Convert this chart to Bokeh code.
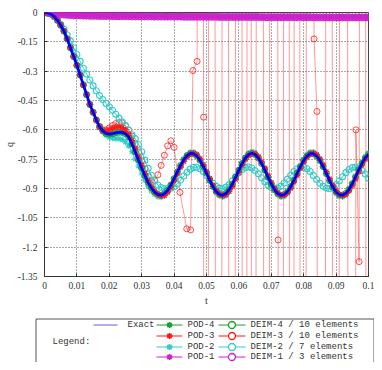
from bokeh.plotting import figure
from bokeh.models import Range1d, FixedTicker
from bokeh.core.properties import value
from bokeh.embed import file_html
from bokeh.resources import INLINE

# ---------------- data ----------------
t = [round(i * 0.001, 3) for i in range(101)]  # sampling instants

q_exact = [0.000, -0.002, -0.008, -0.020, -0.040, -0.065, -0.095, -0.135, -0.180, -0.225,
           -0.270, -0.320, -0.370, -0.420, -0.470, -0.510, -0.550, -0.585, -0.605, -0.618,
           -0.622, -0.620, -0.615, -0.612, -0.613, -0.620, -0.637, -0.672, -0.713, -0.755,
           -0.795, -0.835, -0.870, -0.897, -0.918, -0.930, -0.935, -0.927, -0.909, -0.882,
           -0.850, -0.815, -0.782, -0.753, -0.732, -0.721, -0.722, -0.733, -0.756, -0.787,
           -0.822, -0.858, -0.890, -0.916, -0.931, -0.935, -0.926, -0.906, -0.877, -0.842,
           -0.806, -0.772, -0.744, -0.726, -0.720, -0.726, -0.744, -0.772, -0.806, -0.842,
           -0.877, -0.906, -0.926, -0.935, -0.931, -0.916, -0.890, -0.858, -0.822, -0.787,
           -0.756, -0.734, -0.722, -0.722, -0.734, -0.757, -0.788, -0.824, -0.860, -0.893,
           -0.918, -0.932, -0.934, -0.925, -0.904, -0.875, -0.840, -0.804, -0.771, -0.744,
           -0.726]

q_pod4 = list(q_exact)
q_deim4 = list(q_exact)

q_pod3 = [0.000, -0.002, -0.008, -0.020, -0.040, -0.065, -0.095, -0.135, -0.180, -0.225,
          -0.270, -0.320, -0.370, -0.420, -0.470, -0.510, -0.550, -0.585, -0.605, -0.608,
          -0.600, -0.592, -0.586, -0.584, -0.588, -0.600, -0.622, -0.655, -0.695, -0.738,
          -0.780, -0.822, -0.860, -0.890, -0.915, -0.930, -0.938, -0.935, -0.920, -0.895,
          -0.862, -0.826, -0.792, -0.762, -0.738, -0.724, -0.720, -0.728, -0.748, -0.778,
          -0.812, -0.848, -0.882, -0.910, -0.928, -0.936, -0.932, -0.915, -0.888, -0.854,
          -0.818, -0.782, -0.752, -0.731, -0.721, -0.722, -0.737, -0.762, -0.795, -0.832,
          -0.868, -0.899, -0.922, -0.934, -0.934, -0.922, -0.899, -0.868, -0.833, -0.797,
          -0.765, -0.740, -0.725, -0.720, -0.727, -0.748, -0.777, -0.813, -0.850, -0.884,
          -0.911, -0.929, -0.936, -0.931, -0.913, -0.886, -0.852, -0.816, -0.781, -0.752,
          -0.732]

q_pod2 = [0.000, -0.002, -0.008, -0.020, -0.040, -0.065, -0.095, -0.135, -0.180, -0.225,
          -0.270, -0.320, -0.370, -0.420, -0.470, -0.510, -0.550, -0.585, -0.610, -0.628,
          -0.638, -0.643, -0.645, -0.646, -0.650, -0.662, -0.682, -0.712, -0.748, -0.785,
          -0.822, -0.857, -0.888, -0.912, -0.930, -0.942, -0.945, -0.938, -0.918, -0.889,
          -0.855, -0.818, -0.783, -0.752, -0.729, -0.716, -0.714, -0.724, -0.746, -0.778,
          -0.815, -0.853, -0.888, -0.917, -0.936, -0.943, -0.936, -0.916, -0.885, -0.848,
          -0.809, -0.771, -0.740, -0.719, -0.711, -0.716, -0.736, -0.765, -0.802, -0.841,
          -0.878, -0.910, -0.932, -0.943, -0.940, -0.924, -0.897, -0.862, -0.823, -0.785,
          -0.752, -0.727, -0.714, -0.713, -0.726, -0.750, -0.784, -0.822, -0.861, -0.897,
          -0.925, -0.941, -0.943, -0.933, -0.911, -0.879, -0.841, -0.802, -0.766, -0.737,
          -0.718]

q_deim2 = [0.000, -0.002, -0.008, -0.020, -0.038, -0.060, -0.085, -0.115, -0.145, -0.180,
           -0.215, -0.250, -0.285, -0.315, -0.345, -0.375, -0.400, -0.425, -0.445, -0.465,
           -0.482, -0.500, -0.520, -0.540, -0.560, -0.580, -0.602, -0.625, -0.645, -0.675,
           -0.712, -0.755, -0.797, -0.832, -0.862, -0.882, -0.895, -0.900, -0.901, -0.899,
           -0.891, -0.877, -0.857, -0.836, -0.817, -0.801, -0.792, -0.791, -0.799, -0.813,
           -0.833, -0.854, -0.873, -0.889, -0.898, -0.900, -0.893, -0.880, -0.861, -0.840,
           -0.819, -0.803, -0.793, -0.790, -0.795, -0.808, -0.825, -0.845, -0.865, -0.882,
           -0.895, -0.900, -0.897, -0.888, -0.872, -0.852, -0.832, -0.813, -0.799, -0.791,
           -0.791, -0.799, -0.813, -0.833, -0.854, -0.873, -0.889, -0.898, -0.900, -0.893,
           -0.880, -0.861, -0.840, -0.819, -0.803, -0.793, -0.790, -0.796, -0.808, -0.826,
           -0.847]

q_pod1 = [0.000, -0.001, -0.003, -0.005, -0.007, -0.009, -0.010, -0.011, -0.012, -0.013,
          -0.014, -0.014, -0.015, -0.015, -0.016, -0.016, -0.016, -0.017, -0.017, -0.017,
          -0.017, -0.018, -0.018, -0.018, -0.018, -0.018, -0.018, -0.019, -0.019, -0.019,
          -0.019, -0.019, -0.019, -0.019, -0.020, -0.020, -0.020, -0.020, -0.020, -0.020,
          -0.020, -0.020, -0.020, -0.021, -0.021, -0.021, -0.021, -0.021, -0.021, -0.021,
          -0.021, -0.021, -0.021, -0.021, -0.022, -0.022, -0.022, -0.022, -0.022, -0.022,
          -0.022, -0.022, -0.022, -0.022, -0.022, -0.022, -0.022, -0.023, -0.023, -0.023,
          -0.023, -0.023, -0.023, -0.023, -0.023, -0.023, -0.023, -0.023, -0.023, -0.023,
          -0.023, -0.023, -0.023, -0.024, -0.024, -0.024, -0.024, -0.024, -0.024, -0.024,
          -0.024, -0.024, -0.024, -0.024, -0.024, -0.024, -0.024, -0.024, -0.024, -0.024,
          -0.024]

q_deim1 = [0.000, -0.001, -0.003, -0.006, -0.008, -0.010, -0.011, -0.012, -0.013, -0.014,
           -0.015, -0.015, -0.016, -0.016, -0.017, -0.017, -0.017, -0.018, -0.018, -0.018,
           -0.018, -0.019, -0.019, -0.019, -0.019, -0.019, -0.019, -0.020, -0.020, -0.020,
           -0.020, -0.020, -0.020, -0.020, -0.021, -0.021, -0.021, -0.021, -0.021, -0.021,
           -0.021, -0.021, -0.021, -0.022, -0.022, -0.022, -0.022, -0.022, -0.022, -0.022,
           -0.022, -0.022, -0.022, -0.022, -0.023, -0.023, -0.023, -0.023, -0.023, -0.023,
           -0.023, -0.023, -0.023, -0.023, -0.023, -0.023, -0.023, -0.024, -0.024, -0.024,
           -0.024, -0.024, -0.024, -0.024, -0.024, -0.024, -0.024, -0.024, -0.024, -0.024,
           -0.024, -0.024, -0.024, -0.025, -0.025, -0.025, -0.025, -0.025, -0.025, -0.025,
           -0.025, -0.025, -0.025, -0.025, -0.025, -0.025, -0.025, -0.025, -0.025, -0.025,
           -0.025]

# DEIM-3 diverges: its own sample list
t_deim3 = t[:41] + [0.0418, 0.0439, 0.0451, 0.0458, 0.0471, 0.0478, 0.0491, 0.0498, 0.0515,
                    0.0538, 0.0558, 0.0578, 0.0601, 0.0618, 0.0632, 0.0644, 0.0663, 0.0688,
                    0.0702, 0.0721, 0.0728, 0.0748, 0.0763, 0.0778, 0.0798, 0.0818, 0.0832,
                    0.0841, 0.0858, 0.0878, 0.0898, 0.0923, 0.0948, 0.0961, 0.0971, 0.0985,
                    0.0998]
q_deim3 = [0.000, -0.002, -0.008, -0.020, -0.040, -0.065, -0.095, -0.135, -0.180, -0.225,
           -0.270, -0.320, -0.370, -0.420, -0.470, -0.510, -0.550, -0.582, -0.600, -0.600,
           -0.590, -0.578, -0.568, -0.563, -0.565, -0.578, -0.600, -0.632, -0.672, -0.715,
           -0.758, -0.800, -0.838, -0.862, -0.858, -0.830, -0.782, -0.730, -0.682, -0.656,
           -0.690,
           -0.920, -1.106, -1.112, -0.297, -0.250, 20.0, -0.535, -20.0, 20.0,
           -20.0, 20.0, -20.0, 20.0, -20.0, 20.0, -20.0, 20.0, -20.0,
           20.0, -1.163, -20.0, 20.0, -20.0, 20.0, -20.0, 20.0, -0.135,
           -0.506, -20.0, 20.0, -20.0, 20.0, -20.0, -0.600, -1.274, 20.0,
           -20.0]

x_ticks = [0, 0.01, 0.02, 0.03, 0.04, 0.05, 0.06, 0.07, 0.08, 0.09, 0.1]
x_labels = ["0", "0.01", "0.02", "0.03", "0.04", "0.05", "0.06", "0.07", "0.08", "0.09", "0.1"]
y_ticks = [0, -0.15, -0.3, -0.45, -0.6, -0.75, -0.9, -1.05, -1.2, -1.35]
y_labels = ["0", "-0.15", "-0.3", "-0.45", "-0.6", "-0.75", "-0.9", "-1.05", "-1.2", "-1.35"]

legend_exact = "Exact"
legend_pod = ["POD-4", "POD-3", "POD-2", "POD-1"]
legend_deim = ["DEIM-4 / 10 elements", "DEIM-3 / 10 elements", "DEIM-2 / 7 elements",
               "DEIM-1 / 3 elements"]

BLUE = "#0000ff"
GREEN = "#14a032"
RED = "#ff1a1a"
CYAN = "#33cccc"
MAG = "#cc22cc"
row_colors = [GREEN, RED, CYAN, MAG]

MONO = "Liberation Mono"
SERIF = "Liberation Serif"

W = 374
MAIN_H = 315
LH = 47

# ---------------- main plot ----------------
p = figure(width=W, height=MAIN_H, x_range=Range1d(0, 0.1), y_range=Range1d(-1.35, 0),
           toolbar_location=None, output_backend="svg",
           min_border_left=43, min_border_right=6, min_border_top=12,
           min_border_bottom=MAIN_H - 276,
           background_fill_color="white", border_fill_color="white")
p.outline_line_color = "#444444"

p.xaxis.ticker = FixedTicker(ticks=x_ticks)
p.xaxis.major_label_overrides = {k: v for k, v in zip(x_ticks, x_labels)}
p.yaxis.ticker = FixedTicker(ticks=y_ticks)
p.yaxis.major_label_overrides = {k: v for k, v in zip(y_ticks, y_labels)}
for ax in (p.xaxis, p.yaxis):
    ax.axis_line_color = "#333333"
    ax.major_tick_line_color = "#333333"
    ax.major_tick_in = 3
    ax.major_tick_out = 0
    ax.minor_tick_line_color = None
    ax.major_label_text_font = SERIF
    ax.major_label_text_font_size = "9.5px"
    ax.major_label_text_color = "#333333"
    ax.axis_label_text_font = SERIF
    ax.axis_label_text_font_size = "10px"
    ax.axis_label_text_font_style = "normal"
    ax.axis_label_text_color = "#333333"
p.xaxis.axis_label = "t"
p.yaxis.axis_label = "q"
p.xaxis.major_label_standoff = 5
p.yaxis.major_label_standoff = 7
p.xaxis.axis_label_standoff = 3
p.yaxis.axis_label_standoff = 0

for g in (p.xgrid, p.ygrid):
    g.grid_line_color = "#555555"
    g.grid_line_dash = "1 2"
    g.grid_line_width = 1

# DEIM-3 (diverging)
p.line(t_deim3, q_deim3, line_color=RED, line_alpha=0.45, line_width=1)
p.scatter(t_deim3, q_deim3, marker="circle", size=6, line_color=RED, fill_color=None,
          line_width=1, line_alpha=0.8)
# DEIM-2 / POD-2
p.line(t, q_deim2, line_color=CYAN, line_width=1)
p.scatter(t, q_deim2, marker="circle", size=6, line_color=CYAN, fill_color=None, line_width=1.1)
p.line(t, q_pod2, line_color=CYAN, line_width=1)
p.scatter(t, q_pod2, marker="asterisk", size=6, line_color=CYAN, line_width=1.2)
# green
p.line(t, q_deim4, line_color=GREEN, line_width=1)
p.scatter(t, q_deim4, marker="circle", size=6, line_color=GREEN, fill_color=None, line_width=1)
p.line(t, q_pod4, line_color=GREEN, line_width=1)
p.scatter(t, q_pod4, marker="asterisk", size=6, line_color=GREEN, line_width=1.1)
# POD-3
p.line(t, q_pod3, line_color=RED, line_width=1)
p.scatter(t, q_pod3, marker="asterisk", size=6, line_color=RED, line_width=1.2)
# magenta
p.line(t, q_deim1, line_color=MAG, line_width=1)
p.scatter(t, q_deim1, marker="circle", size=7, line_color=MAG, fill_color=None, line_width=1)
p.line(t, q_pod1, line_color=MAG, line_width=1)
p.scatter(t, q_pod1, marker="asterisk", size=7, line_color=MAG, line_width=1.2)
# exact on top
p.line(t, q_exact, line_color=BLUE, line_width=2.8)

# ---------------- legend panel (separate root, directly below) ----------------
L = figure(width=W, height=LH, x_range=Range1d(0, W), y_range=Range1d(LH, 0),
           toolbar_location=None, output_backend="svg",
           x_axis_location=None, y_axis_location=None,
           min_border_left=0, min_border_right=0, min_border_top=0, min_border_bottom=0,
           background_fill_color="white", border_fill_color="white")
L.grid.visible = False
L.outline_line_color = None

# box (top, left, right edges visible)
L.line([35.5, 35.5, 373.5, 373.5], [LH, 3.5, 3.5, LH], line_color="#555555", line_width=1)

rows_y = [9.5, 20.5, 31.5, 41.5]
FS = "9px"
L.line([93, 117], [rows_y[0], rows_y[0]], line_color="#6060d8", line_width=1)
L.text([127], [rows_y[0]], text=[legend_exact], text_font=value(MONO), text_font_size=FS,
       text_baseline="middle", text_align="left", text_color="#333333")
L.text([52], [26.0], text=["Legend:"], text_font=value(MONO), text_font_size=FS,
       text_baseline="middle", text_align="left", text_color="#333333")

for i, (lp, ld, c) in enumerate(zip(legend_pod, legend_deim, row_colors)):
    y = rows_y[i]
    L.line([156, 182], [y, y], line_color=c, line_width=1)
    L.scatter([169], [y], marker="asterisk", size=6, line_color=c, line_width=1.5)
    L.text([187], [y], text=[lp], text_font=value(MONO), text_font_size=FS,
           text_baseline="middle", text_align="left", text_color="#333333")
    L.line([218, 245], [y, y], line_color=c, line_width=1)
    L.scatter([231.5], [y], marker="circle", size=7, line_color=c, fill_color="white",
              line_width=1.3)
    L.text([250], [y], text=[ld], text_font=value(MONO), text_font_size=FS,
           text_baseline="middle", text_align="left", text_color="#333333")

open("out.html", "w").write(file_html([p, L], INLINE))
